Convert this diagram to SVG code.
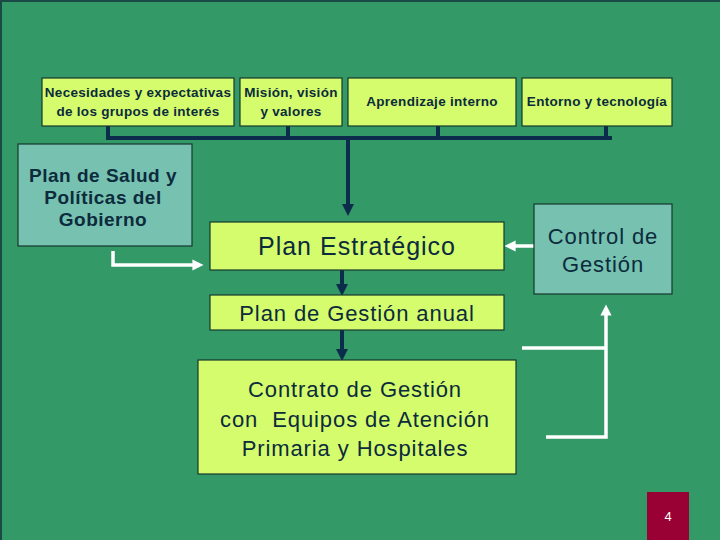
<svg xmlns="http://www.w3.org/2000/svg" width="720" height="540" viewBox="0 0 720 540">
<defs>
<style>
.bg{fill:#339966}
.yb{fill:#d4fc6c;stroke:#16372e;stroke-width:1.2}
.tb{fill:#77c1b1;stroke:#16372e;stroke-width:1.2}
.t{font-family:"Liberation Sans",Arial,sans-serif;fill:#0c2b3c;text-anchor:middle}
.sb{font-size:13.5px;font-weight:bold;letter-spacing:0.3px}
.hb{font-size:19px;font-weight:bold;letter-spacing:0.5px}
.big{font-size:22px;letter-spacing:0.9px}
.nv{fill:none;stroke:#0b2d4b;stroke-width:4}
.wt{fill:none;stroke:#ffffff;stroke-width:3.5}
</style>
<marker id="an" markerWidth="3" markerHeight="3" refX="1.5" refY="1.5" orient="auto" markerUnits="strokeWidth"><path d="M0,0 L3,1.5 L0,3 z" fill="#0b2d4b"/></marker>
<marker id="aw" markerWidth="3.2" markerHeight="3.2" refX="1.6" refY="1.6" orient="auto" markerUnits="strokeWidth"><path d="M0,0 L3.2,1.6 L0,3.2 z" fill="#ffffff"/></marker>
</defs>
<rect class="bg" x="0" y="0" width="720" height="540"/>
<path d="M1,540 V1 H720" fill="none" stroke="#1a4a45" stroke-width="2"/>

<g id="connectors">
<path class="nv" d="M108,126 V138 M288,126 V138 M438,126 V138 M606,126 V138 M106,138 H612"/>
<path class="nv" d="M348,138 V210" marker-end="url(#an)"/>
<path class="nv" d="M342,270 V290" marker-end="url(#an)"/>
<path class="nv" d="M342,330 V355" marker-end="url(#an)"/>
<path class="wt" d="M113,251 V265 H198" marker-end="url(#aw)"/>
<path class="wt" d="M534,246 H510" marker-end="url(#aw)"/>
<path class="wt" d="M522,348 H606 M546,437 H606 V310" marker-end="url(#aw)"/>
</g>

<g id="n1"><rect class="yb" x="42" y="78" width="192" height="48"/>
<text class="t sb" x="138" y="97">Necesidades y expectativas</text>
<text class="t sb" x="138" y="116">de los grupos de interés</text></g>
<g id="n2"><rect class="yb" x="240" y="78" width="102" height="48"/>
<text class="t sb" x="291" y="97">Misión, visión</text>
<text class="t sb" x="291" y="116">y valores</text></g>
<g id="n3"><rect class="yb" x="348" y="78" width="168" height="48"/>
<text class="t sb" x="432" y="106">Aprendizaje interno</text></g>
<g id="n4"><rect class="yb" x="522" y="78" width="150" height="48"/>
<text class="t sb" x="597" y="106">Entorno y tecnología</text></g>

<g id="n5"><rect class="tb" x="18" y="144" width="174" height="102"/>
<text class="t hb" x="103" y="182">Plan de Salud y</text>
<text class="t hb" x="103" y="204">Políticas del</text>
<text class="t hb" x="103" y="226">Gobierno</text></g>

<g id="n6"><rect class="yb" x="210" y="222" width="294" height="48"/>
<text class="t big" x="357" y="255" style="font-size:25px;letter-spacing:1px">Plan Estratégico</text></g>

<g id="n7"><rect class="tb" x="534" y="204" width="138" height="90"/>
<text class="t big" x="603" y="244">Control de</text>
<text class="t big" x="603" y="272">Gestión</text></g>

<g id="n8"><rect class="yb" x="210" y="295" width="294" height="35"/>
<text class="t big" x="357" y="321">Plan de Gestión anual</text></g>

<g id="n9"><rect class="yb" x="198" y="360" width="318" height="114"/>
<text class="t big" x="355" y="397">Contrato de Gestión</text>
<text class="t big" x="355" y="427" xml:space="preserve" style="white-space:pre">con  Equipos de Atención</text>
<text class="t big" x="355" y="456">Primaria y Hospitales</text></g>

<g id="page"><rect x="647" y="492" width="42" height="48" fill="#990033"/>
<text x="668" y="521" font-family="Liberation Sans, Arial, sans-serif" font-size="13" fill="#ffffff" text-anchor="middle">4</text></g>
</svg>
